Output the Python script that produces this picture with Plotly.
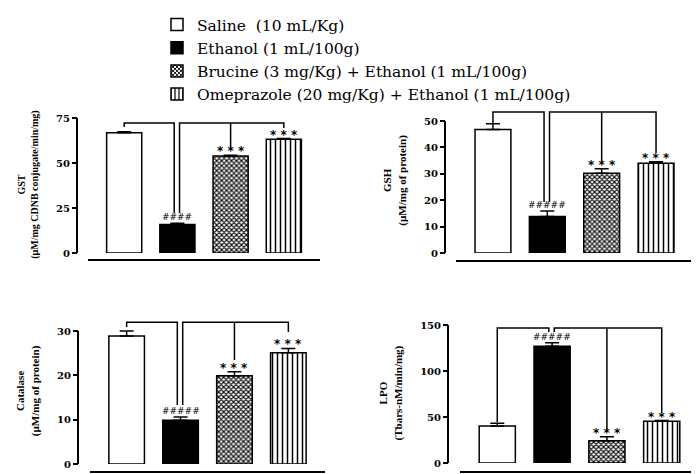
#%% libs
import plotly.graph_objects as go

#%% data
groups = ["Saline\u00a0 (10 mL/Kg)",
          "Ethanol (1 mL/100g)",
          "Brucine (3 mg/Kg) + Ethanol (1 mL/100g)",
          "Omeprazole (20 mg/Kg) + Ethanol (1 mL/100g)"]

gst_mean = [66.8, 15.9, 53.9, 63.2]
gst_err = [0.6, 0.6, 0.4, 0.4]
gst_bracket_top = 72.2
gst_bracket_ends = [70.0, 22.2, 57.2, 69.4]

gsh_mean = [46.8, 13.8, 30.2, 34.0]
gsh_err = [2.2, 2.1, 1.7, 0.6]
gsh_bracket_top = 53.4
gsh_bracket_ends = [49.2, 19.3, 34.5, 37.9]

cat_mean = [28.9, 9.9, 19.9, 25.1]
cat_err = [1.1, 0.7, 0.9, 1.0]
cat_bracket_top = 32.0
cat_bracket_ends = [30.9, 13.3, 23.5, 29.8]

lpo_mean = [40.2, 127.0, 24.3, 45.3]
lpo_err = [2.9, 3.8, 4.2, 0.8]
lpo_bracket_top = 146.7
lpo_bracket_ends = [44.6, 142.4, 33.7, 54.3]

#%% styling / layout in pixels of the 699x474 window (page body has an 8px margin)
OFF = 8
W, H = 699 - OFF, 474 - OFF
def px(x): return (x - OFF) / W
def py(y): return 1 - (y - OFF) / H

fills = ["white", "black", "white", "white"]
pattern_shapes = ["", "", "x", "|"]
pattern_sizes = [8, 8, 3.5, 5]
pattern_solid = [0.3, 0.3, 0.55, 0.3]

panels = [
    dict(title="GST<br>(µM/mg CDNB conjugate/min/mg)", tsize=10,
         mean=gst_mean, err=gst_err, top=gst_bracket_top, ends=gst_bracket_ends,
         hashes="####", ticks=[0, 25, 50, 75], ymax=76,
         axis_x=77, xdom=(88, 320), zero_y=253, unit_px=1.8, xline_y=260),
    dict(title="GSH<br>(µM/mg of protein)", tsize=11,
         mean=gsh_mean, err=gsh_err, top=gsh_bracket_top, ends=gsh_bracket_ends,
         hashes="#####", ticks=[0, 10, 20, 30, 40, 50], ymax=55,
         axis_x=445, xdom=(456, 693), zero_y=253, unit_px=2.64, xline_y=261),
    dict(title="Catalase<br>(µM/mg of protein)", tsize=11,
         mean=cat_mean, err=cat_err, top=cat_bracket_top, ends=cat_bracket_ends,
         hashes="#####", ticks=[0, 10, 20, 30], ymax=33,
         axis_x=78, xdom=(90, 325), zero_y=464, unit_px=4.43, xline_y=472),
    dict(title="LPO<br>(Tbars-nM/min/mg)", tsize=11,
         mean=lpo_mean, err=lpo_err, top=lpo_bracket_top, ends=lpo_bracket_ends,
         hashes="#####", ticks=[0, 50, 100, 150], ymax=152,
         axis_x=448, xdom=(460, 699), zero_y=463, unit_px=0.92, xline_y=472),
]

xpos = list(range(len(groups)))
fig = go.Figure()
shapes, annos = [], []

for i, p in enumerate(panels):
    n = "" if i == 0 else str(i + 1)
    xa, ya = "x" + n, "y" + n

    for g in range(len(groups)):
        fig.add_trace(go.Bar(
            x=[xpos[g]], y=[p["mean"][g]], width=0.66,
            name=groups[g], legendgroup=groups[g], showlegend=(i == 0),
            marker=dict(color=fills[g], line=dict(color="black", width=1.5),
                        pattern=dict(shape=pattern_shapes[g], fgcolor="black",
                                     bgcolor=fills[g], size=pattern_sizes[g],
                                     solidity=pattern_solid[g])),
            error_y=dict(type="data", symmetric=False, array=[p["err"][g]],
                         arrayminus=[0], color="black", thickness=1.5, width=7),
            xaxis=xa, yaxis=ya, hoverinfo="skip"))

    # comparison brackets
    e, t = p["ends"], p["top"]
    fig.add_trace(go.Scatter(
        x=[0, 0, 0.94, 0.94], y=[e[0], t, t, e[1]], mode="lines",
        line=dict(color="black", width=1.5), showlegend=False,
        xaxis=xa, yaxis=ya, hoverinfo="skip"))
    fig.add_trace(go.Scatter(
        x=[1.04, 1.04, 3, 3, None, 2, 2], y=[e[1], t, t, e[3], None, t, e[2]],
        mode="lines", line=dict(color="black", width=1.5), showlegend=False,
        xaxis=xa, yaxis=ya, hoverinfo="skip"))

    # significance marks
    tops = [m + s for m, s in zip(p["mean"], p["err"])]
    annos.append(dict(x=1, y=tops[1], xref=xa, yref=ya, text=p["hashes"],
                      showarrow=False, yanchor="bottom", yshift=-1,
                      font=dict(family="DejaVu Sans", size=9, color="black")))
    for g in (2, 3):
        annos.append(dict(x=g, y=tops[g], xref=xa, yref=ya, text="* * *",
                          showarrow=False, yanchor="bottom", yshift=-5,
                          font=dict(family="DejaVu Sans", size=12, color="black",
                                    weight="bold")))

    # y axis line only up to the top tick
    shapes.append(dict(type="line", xref="paper", yref=ya,
                       x0=px(p["axis_x"]), x1=px(p["axis_x"]),
                       y0=0, y1=p["ticks"][-1], line=dict(color="black", width=2)))

    y_lo = py(p["zero_y"])
    y_hi = py(p["zero_y"] - p["ymax"] * p["unit_px"])
    fig.layout["xaxis" + n] = dict(
        domain=[px(p["xdom"][0]), px(p["xdom"][1])], range=[-0.68, 3.68],
        anchor="free", position=py(p["xline_y"]),
        showline=True, linecolor="black", linewidth=1.5,
        showticklabels=False, ticks="", showgrid=False, zeroline=False)
    fig.layout["yaxis" + n] = dict(
        domain=[y_lo, y_hi], range=[0, p["ymax"]], tickvals=p["ticks"],
        anchor="free", position=px(p["axis_x"]), showline=False,
        ticks="outside", ticklen=5, tickwidth=1.5, tickcolor="black",
        tickfont=dict(family="DejaVu Serif", size=10, color="black", weight="bold"),
        showgrid=False, zeroline=False,
        title=dict(text=p["title"], standoff=14,
                   font=dict(family="Liberation Serif", size=p["tsize"],
                             color="black", weight="bold")))

fig.update_layout(
    width=W, height=H, autosize=False, template="none",
    margin=dict(l=0, r=0, t=0, b=0),
    paper_bgcolor="white", plot_bgcolor="rgba(0,0,0,0)",
    barmode="overlay", shapes=shapes, annotations=annos,
    legend=dict(x=px(157), y=1.0, xanchor="left", yanchor="top",
                font=dict(family="DejaVu Serif", size=15.5, color="black"),
                bgcolor="rgba(0,0,0,0)", tracegroupgap=0))

fig.write_html("out.html")
